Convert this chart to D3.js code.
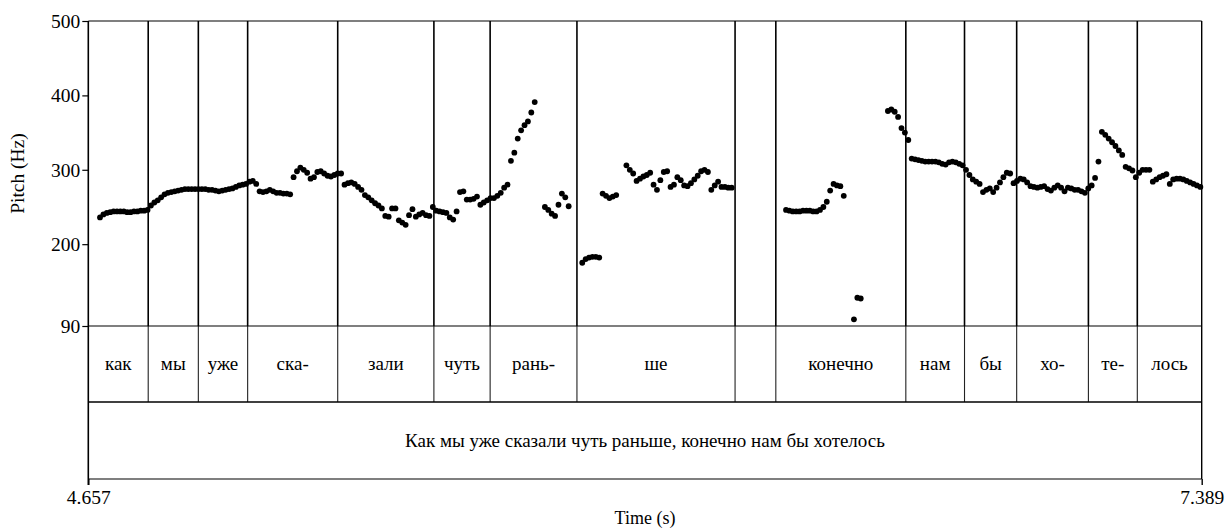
<!DOCTYPE html>
<html>
<head>
<meta charset="utf-8">
<script src="https://cdn.jsdelivr.net/npm/d3@7"></script>
<style>
  body { margin: 0; background: #fff; }
  svg text { font-family: "Liberation Serif", "Times New Roman", serif; fill: #000; }
</style>
</head>
<body>
<svg></svg>
<script>
const width = 1225, height = 529;

// time range of the picture
const tStart = 4.657, tEnd = 7.389;

// pitch frames: first frame time and step (0.75 / pitch floor 90 Hz)
const firstFrameTime = 4.6857;
const frameStep = 0.75 / 90;

// first frame index of each voiced stretch
const segStarts = [0, 131, 142, 155, 202, 222, 232];

// pitch values in Hz, one per frame
const seg1 = [236,240,242,243,244,244,244,244,243,243,244,244,245,245,246,
  252,256,259,263,267,269,270,271,272,273,274,274,274,274,274,
  274,274,273,273,272,271,272,273,274,275,277,279,280,281,284,
  285,281,271,270,271,273,271,269,269,268,268,267,290,298,303,
  300,296,288,290,297,298,295,292,291,293,295,295,280,282,283,
  281,277,273,266,263,259,255,252,248,238,237,248,248,232,229,
  226,239,247,237,240,242,239,238,250,245,244,243,242,236,233,
  244,270,271,260,260,261,264,253,256,259,262,262,265,269,276,
  280,312,323,342,353,360,365,377,391];
const seg2 = [250,246,241,238,253,268,263,251];
const seg3 = [175,180,182,183,183,182,268,265,262,264,266];
const seg4 = [306,300,295,285,288,291,293,296,280,273,286,297,298,277,280,290,
  286,279,278,282,287,292,298,300,297,273,279,284,277,277,276,276];
const seg5 = [246,245,244,244,244,245,245,245,244,244,246,250,257,272,281,279,278,265];
const seg6 = [99,128,127];
const seg7 = [379,381,378,371,356,350,340,
  315,314,313,312,311,311,311,311,310,308,307,310,311,310,308,
  306,300,293,287,284,281,270,
  273,275,270,276,283,290,296,295,282,285,288,287,283,278,277,
  276,277,278,274,272,276,279,276,271,276,275,273,273,271,269,
  275,279,289,311,351,347,342,337,332,326,320,304,302,299,290,
  296,300,300,300,284,287,290,292,294,281,287,288,288,287,285,
  283,281,279,277];
const segments = [seg1, seg2, seg3, seg4, seg5, seg6, seg7];

// word tier
const wordBounds = [4.804, 4.927, 5.048, 5.269, 5.505, 5.643, 5.856, 6.244, 6.344, 6.663, 6.807, 6.935, 7.111, 7.231];
const words = ["как", "мы", "уже", "ска-", "зали", "чуть", "рань-", "ше", "", "конечно", "нам", "бы", "хо-", "те-", "лось"];

// sentence tier
const sentence = "Как мы уже сказали чуть раньше, конечно нам бы хотелось";

// y axis
const yTicks = [90, 200, 300, 400, 500];

const svg = d3.select("svg").attr("width", width).attr("height", height);

const left = 88.3, right = 1201.7;
const pitchTop = 21, pitchBottom = 326, wordBottom = 402, sentBottom = 479;

const x = d3.scaleLinear().domain([tStart, tEnd]).range([left, right]);
const y = d3.scaleLinear().domain([90, 500]).range([pitchBottom, pitchTop]);

// build points
let points = [];
segments.forEach((vals, i) => {
    vals.forEach((hz, j) => {
        points.push({ t: firstFrameTime + (segStarts[i] + j) * frameStep, hz: hz });
    });
});

// word boundaries in the pitch area
svg.selectAll("line.pb")
    .data(wordBounds)
    .enter().append("line")
    .attr("x1", d => x(d)).attr("x2", d => x(d))
    .attr("y1", pitchTop).attr("y2", pitchBottom)
    .attr("stroke", "#000").attr("stroke-width", 1.6);

// word boundaries in the tier
svg.selectAll("line.wb")
    .data(wordBounds)
    .enter().append("line")
    .attr("x1", d => x(d)).attr("x2", d => x(d))
    .attr("y1", pitchBottom).attr("y2", wordBottom)
    .attr("stroke", "#222").attr("stroke-width", 1.1);

// horizontal frame lines
[pitchTop, pitchBottom, wordBottom, sentBottom].forEach(yy => {
    svg.append("line")
        .attr("x1", left).attr("x2", right)
        .attr("y1", yy).attr("y2", yy)
        .attr("stroke", "#000").attr("stroke-width", yy === wordBottom ? 1.6 : 1.2);
});
svg.append("line")
    .attr("x1", right).attr("x2", right)
    .attr("y1", pitchTop).attr("y2", sentBottom)
    .attr("stroke", "#000").attr("stroke-width", 1.4);

// left axis
const yAxis = svg.append("g")
    .attr("transform", `translate(${left},0)`)
    .call(d3.axisLeft(y).tickValues(yTicks).tickSize(6).tickPadding(2).tickFormat(d3.format("d")));
yAxis.select(".domain").remove();
yAxis.attr("font-family", null);
yAxis.selectAll("text").style("font-size", "19.5px");
yAxis.selectAll("line").attr("stroke-width", 1.2);
svg.append("line")
    .attr("x1", left).attr("x2", left)
    .attr("y1", pitchTop).attr("y2", sentBottom + 6)
    .attr("stroke", "#000").attr("stroke-width", 1.6);

// bottom ticks (only the ends)
const xAxis = svg.append("g")
    .attr("transform", `translate(0,${sentBottom})`)
    .call(d3.axisBottom(x).tickValues([tStart, tEnd]).tickSize(6).tickPadding(5).tickFormat(d3.format(".3f")));
xAxis.select(".domain").remove();
xAxis.attr("font-family", null);
xAxis.selectAll("text").style("font-size", "19.5px");
xAxis.selectAll("line").attr("stroke-width", 1.4);

// pitch points
svg.selectAll("circle")
    .data(points)
    .enter().append("circle")
    .attr("cx", d => x(d.t))
    .attr("cy", d => y(d.hz))
    .attr("r", 2.9)
    .attr("fill", "#000");

// word labels
const mids = [tStart].concat(wordBounds).concat([tEnd]);
svg.selectAll("text.word")
    .data(words)
    .enter().append("text")
    .attr("class", "word")
    .attr("x", (d, i) => (x(mids[i]) + x(mids[i + 1])) / 2)
    .attr("y", (pitchBottom + wordBottom) / 2)
    .attr("dy", "0.32em")
    .attr("text-anchor", "middle")
    .style("font-size", "19px")
    .text(d => d);

// sentence label
svg.append("text")
    .attr("x", (left + right) / 2)
    .attr("y", (wordBottom + sentBottom) / 2)
    .attr("dy", "0.32em")
    .attr("text-anchor", "middle")
    .style("font-size", "19px")
    .text(sentence);

// axis titles
svg.append("text")
    .attr("transform", `translate(24,${(pitchTop + pitchBottom) / 2}) rotate(-90)`)
    .attr("text-anchor", "middle")
    .style("font-size", "19.5px")
    .text("Pitch (Hz)");

svg.append("text")
    .attr("x", (left + right) / 2)
    .attr("y", 524)
    .attr("text-anchor", "middle")
    .style("font-size", "18px")
    .text("Time (s)");
</script>
</body>
</html>
